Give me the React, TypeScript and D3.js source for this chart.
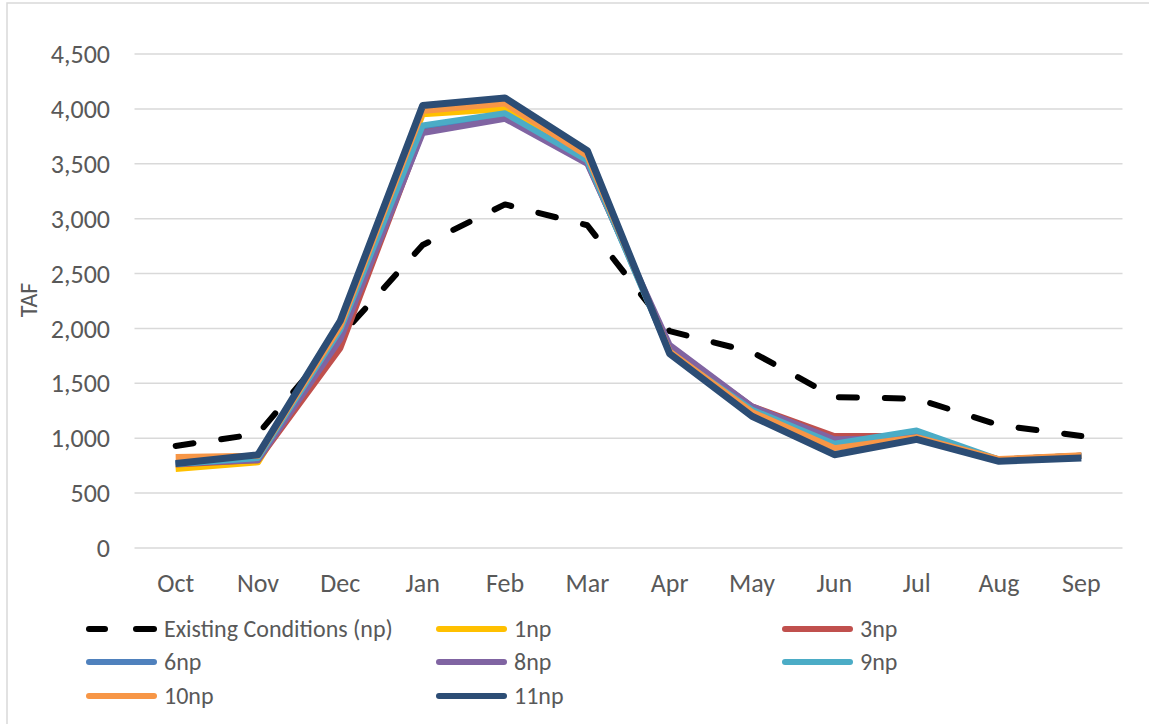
import React from "react";
import * as d3 from "d3";

const months = ["Oct", "Nov", "Dec", "Jan", "Feb", "Mar", "Apr", "May", "Jun", "Jul", "Aug", "Sep"];
const yTicks = [0, 500, 1000, 1500, 2000, 2500, 3000, 3500, 4000, 4500];

const existing = [930, 1040, 1930, 2760, 3130, 2940, 1975, 1785, 1375, 1360, 1120, 1020];
const np1 = [720, 780, 2000, 3950, 4000, 3560, 1790, 1250, 920, 1010, 805, 840];
const np3 = [760, 800, 1820, 3800, 3930, 3510, 1830, 1290, 1020, 1020, 805, 840];
const np6 = [770, 810, 1960, 3840, 3950, 3530, 1790, 1260, 960, 1020, 805, 840];
const np8 = [770, 800, 1900, 3780, 3910, 3500, 1850, 1290, 990, 1000, 805, 840];
const np9 = [765, 820, 1990, 3850, 3960, 3530, 1780, 1260, 950, 1070, 805, 840];
const np10 = [830, 840, 2020, 3980, 4050, 3570, 1790, 1240, 910, 1010, 810, 845];
const np11 = [770, 850, 2070, 4030, 4100, 3620, 1770, 1200, 850, 990, 790, 820];

const seriesNames = ["Existing Conditions (np)", "1np", "3np", "6np", "8np", "9np", "10np", "11np"];
const seriesColors = ["#000000", "#FFC000", "#C0504D", "#4F81BD", "#8064A2", "#4BACC6", "#F79646", "#2C4D75"];
const seriesValues = [existing, np1, np3, np6, np8, np9, np10, np11];

const FONT = "Carlito, Calibri, 'Open Sans', sans-serif";

export default function App() {
  const W = 1149;
  const H = 724;
  const left = 134.5;
  const right = 1122.5;
  const top = 54;
  const bottom = 548;

  const x = d3.scaleBand<string>().domain(months).range([left, right]);
  const y = d3.scaleLinear().domain([0, 4500]).range([bottom, top]);
  const cx = (m: string) => (x(m) as number) + x.bandwidth() / 2;

  const line = d3
    .line<number>()
    .x((_, i) => cx(months[i]))
    .y((d) => y(d));

  const legendCols = [86, 436, 782];
  const legendRows = [629, 662, 696];

  return (
    <svg
      width={W}
      height={H}
      style={{ position: "absolute", left: 0, top: 0, background: "#fff" }}
      fontFamily={FONT}
    >
      <rect x={7} y={3} width={1160} height={740} fill="#fff" stroke="#D9D9D9" strokeWidth={1.5} />
      {yTicks.map((t) => (
        <g key={t}>
          <line x1={left} x2={right} y1={y(t)} y2={y(t)} stroke="#D9D9D9" strokeWidth={1.5} />
          <text x={110} y={y(t)} dy="0.35em" textAnchor="end" fontSize={26} fill="#595959">
            {d3.format(",")(t)}
          </text>
        </g>
      ))}
      <text
        transform={`translate(37,${300}) rotate(-90)`}
        textAnchor="middle"
        fontSize={24}
        fill="#595959"
      >
        TAF
      </text>
      {months.map((m) => (
        <text key={m} x={cx(m)} y={583} dy="0.35em" textAnchor="middle" fontSize={26} fill="#595959">
          {m}
        </text>
      ))}
      {seriesValues.map((vals, i) => (
        <path
          key={seriesNames[i]}
          d={line(vals) || ""}
          fill="none"
          stroke={seriesColors[i]}
          strokeWidth={i === 0 ? 6 : i === 7 ? 7 : 6}
          strokeLinejoin="round"
          strokeLinecap={i === 0 ? "round" : "butt"}
          strokeDasharray={i === 0 ? "18 28" : undefined}
        />
      ))}
      {seriesNames.map((name, i) => {
        const col = i % 3;
        const row = Math.floor(i / 3);
        const lx = legendCols[col];
        const ly = legendRows[row];
        return (
          <g key={name}>
            {i === 0 ? (
              <>
                <line x1={lx + 3} x2={lx + 19} y1={ly} y2={ly} stroke="#000" strokeWidth={6} strokeLinecap="round" />
                <line x1={lx + 50} x2={lx + 68} y1={ly} y2={ly} stroke="#000" strokeWidth={6} strokeLinecap="round" />
              </>
            ) : (
              <line x1={lx + 3} x2={lx + 68} y1={ly} y2={ly} stroke={seriesColors[i]} strokeWidth={6} strokeLinecap="round" />
            )}
            <text x={lx + 78} y={ly} dy="0.35em" fontSize={24} fill="#595959">
              {name}
            </text>
          </g>
        );
      })}
    </svg>
  );
}
